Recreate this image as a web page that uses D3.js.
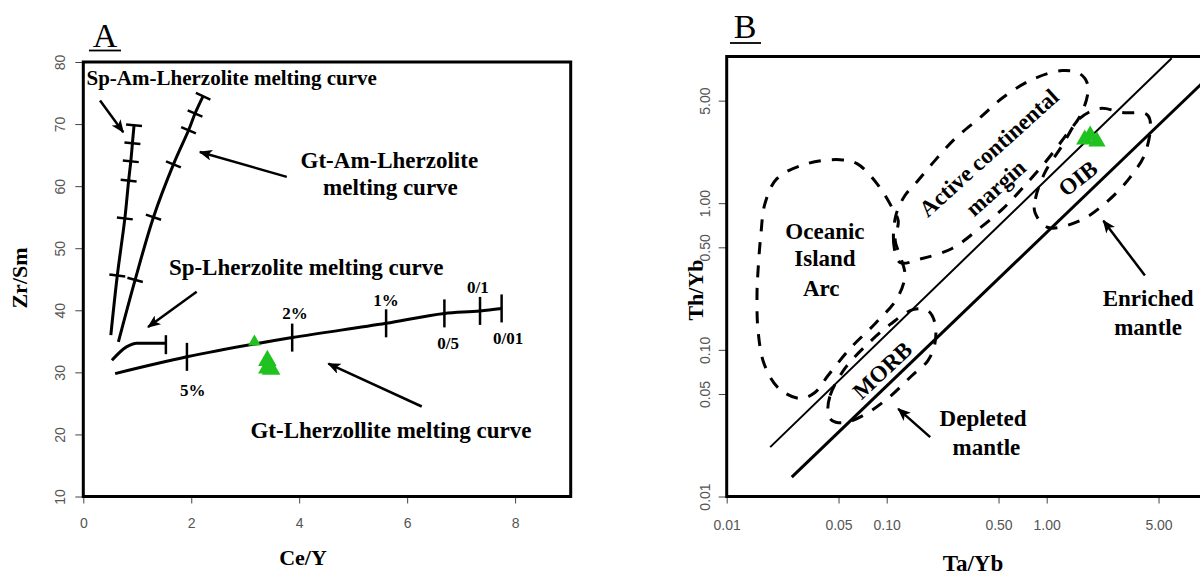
<!DOCTYPE html>
<html><head><meta charset="utf-8">
<script src="https://cdn.jsdelivr.net/npm/d3@7"></script>
<style>body{margin:0;background:#fff} svg{display:block}</style>
</head><body><svg id="c" width="1200" height="579"></svg>
<script>
// ---------- Panel A data ----------
const aXTicks = [0, 2, 4, 6, 8];
const aYTicks = [10, 20, 30, 40, 50, 60, 70, 80];
const spAmCurve = [[0.51,36.0],[0.63,45.6],[0.77,54.8],[0.84,60.9],[0.88,64.0],[0.91,66.9],[0.94,69.8]];
const gtAmCurve = [[0.65,34.9],[0.96,44.9],[1.30,55.0],[1.67,63.5],[1.95,69.0],[2.07,71.7],[2.22,74.5]];
const spLherzCurve = [[0.53,31.95],[0.80,34.1],[0.99,34.7],[1.53,34.7]];
const gtLherzCurve = [[0.59,29.8],[1.92,32.5],[3.87,35.6],[5.61,37.9],[6.69,39.5],[7.35,39.9],[7.75,40.3]];
const gtLherzTickLabels = ["5%","2%","1%","0/5","0/1","0/01"];
const gtLherzLabelPos = [[2.03,27.1],[3.92,39.5],[5.61,41.6],[6.76,34.7],[7.31,43.7],[7.87,35.5]];
const aSamples = [[3.17,34.9],[3.41,31.9],[3.41,30.7],[3.48,30.5]];
const aLabels = [
  {t:"Sp-Am-Lherzolite melting curve", x:2.75, y:77.5},
  {t:"Gt-Am-Lherzolite", x:5.67, y:64.2},
  {t:"melting curve", x:5.69, y:59.8},
  {t:"Sp-Lherzolite melting curve", x:4.13, y:46.9},
  {t:"Gt-Lherzollite melting curve", x:5.70, y:20.7}
];
const aArrows = [
  [[0.31,73.8],[0.74,68.7]],
  [[3.77,61.5],[2.16,65.5]],
  [[2.10,43.0],[1.20,37.3]],
  [[6.27,24.5],[4.54,31.4]]
];

// ---------- Panel B data ----------
const bTicks = [0.01, 0.05, 0.10, 0.50, 1.00, 5.00];
const mantleUpper = [[0.0187,0.0217],[6.04,9.72]];
const mantleLower = [[0.0255,0.01355],[9.5,6.68]];
const regionOIA = [[0.0287,0.0466],[0.0209,0.0553],[0.0171,0.0807],[0.0157,0.1355],[0.01547,0.242],[0.0157,0.3475],[0.01637,0.621],[0.01734,0.993],[0.0206,1.47],[0.0318,1.86],[0.0511,1.98],[0.0652,1.86],[0.0869,1.36],[0.108,0.933],[0.118,0.760],[0.113,0.556],[0.121,0.440],[0.130,0.321],[0.116,0.224],[0.0857,0.153],[0.0590,0.102],[0.0430,0.0668],[0.0356,0.0512]];
const regionACM = [[0.121,0.394],[0.111,0.514],[0.114,0.822],[0.130,1.127],[0.157,1.426],[0.200,1.95],[0.267,2.75],[0.383,3.83],[0.533,5.25],[0.809,6.96],[1.25,8.02],[1.61,7.64],[1.81,6.34],[1.66,4.15],[1.30,2.84],[0.975,1.89],[0.702,1.26],[0.533,0.918],[0.372,0.661],[0.256,0.491],[0.166,0.419]];
const regionOIB = [[0.845,0.863],[0.85,1.07],[0.975,1.62],[1.25,2.47],[1.61,3.78],[2.15,4.42],[2.96,4.15],[4.30,3.95],[4.18,2.28],[3.32,1.50],[2.31,0.993],[1.61,0.760],[1.02,0.683]];
const regionMORB = [[0.0430,0.0374],[0.0443,0.0488],[0.0548,0.0746],[0.0743,0.107],[0.105,0.149],[0.146,0.188],[0.181,0.185],[0.200,0.153],[0.200,0.110],[0.181,0.0845],[0.144,0.0668],[0.105,0.0481],[0.0731,0.0362],[0.0548,0.0319],[0.0455,0.0330]];
const bSamples = [[1.73,2.72],[2.06,2.63],[1.87,2.89]];
const bLabels = [
  {t:"Oceanic", x:0.0411, y:0.643, r:0},
  {t:"Island", x:0.0411, y:0.417, r:0},
  {t:"Arc", x:0.0390, y:0.261, r:0},
  {t:"Active continental", x:0.436, y:2.20, r:-42},
  {t:"margin", x:0.481, y:1.27, r:-42},
  {t:"OIB", x:1.57, y:1.47, r:-38},
  {t:"MORB", x:0.0942, y:0.0723, r:-43},
  {t:"Enriched", x:4.30, y:0.223, r:0},
  {t:"mantle", x:4.30, y:0.1426, r:0},
  {t:"Depleted", x:0.40, y:0.0340, r:0},
  {t:"mantle", x:0.42, y:0.0217, r:0}
];
const bArrows = [
  [[4.11,0.321],[2.26,0.760]],
  [[0.187,0.0254],[0.118,0.0396]]
];

// ---------- drawing ----------
const svg = d3.select("#c");
svg.append("rect").attr("width",1200).attr("height",579).attr("fill","#fff");
const SERIF = "'Liberation Serif','Times New Roman',serif";
const SANS = "'Liberation Sans',Arial,sans-serif";
const GREEN = "#1fc21f";

const defs = svg.append("defs");
defs.append("marker").attr("id","arr").attr("viewBox","0 0 12 10")
  .attr("refX",11).attr("refY",5).attr("markerWidth",15).attr("markerHeight",11)
  .attr("markerUnits","userSpaceOnUse").attr("orient","auto")
  .append("path").attr("d","M0,0 L12,5 L0,10 L3,5 Z").attr("fill","#000");

function styleAxis(g){
  g.select(".domain").remove();
  g.selectAll(".tick line").attr("stroke","#444").attr("stroke-width",1);
  g.selectAll(".tick text").attr("fill","#555").attr("font-family",SANS).attr("font-size",14);
}

// ===== Panel A =====
const xA = d3.scaleLinear().domain([0, 9.03]).range([83.3, 570.7]);
const yA = d3.scaleLinear().domain([10, 80]).range([496.5, 62]);
const gA = svg.append("g");

const axA = gA.append("g").attr("transform","translate(0,496.5)")
  .call(d3.axisBottom(xA).tickValues(aXTicks).tickSize(7).tickFormat(d3.format("d")));
styleAxis(axA);
axA.selectAll(".tick text").attr("y",26.5).attr("dy","0.35em");

const ayA = gA.append("g").attr("transform","translate(83.3,0)")
  .call(d3.axisLeft(yA).tickValues(aYTicks).tickSize(8).tickFormat(d3.format("d")));
styleAxis(ayA);
ayA.selectAll(".tick text").attr("x",0).attr("dy","0.35em").attr("text-anchor","middle")
  .attr("transform","translate(-23,0) rotate(-90)");

gA.append("rect").attr("x",xA(0)).attr("y",yA(80)).attr("width",xA(9.03)-xA(0)).attr("height",yA(10)-yA(80))
  .attr("fill","none").attr("stroke","#000").attr("stroke-width",3);

const lineA = d3.line().x(d=>xA(d[0])).y(d=>yA(d[1]));
function perpTicks(g, pts, half, skipFirst){
  const P = pts.map(d=>[xA(d[0]), yA(d[1])]);
  P.forEach((p,i)=>{
    if (skipFirst && i===0) return;
    const a = P[Math.max(0,i-1)], b = P[Math.min(P.length-1,i+1)];
    let dx=b[0]-a[0], dy=b[1]-a[1]; const L=Math.hypot(dx,dy); dx/=L; dy/=L;
    const nx=-dy, ny=dx;
    g.append("line").attr("x1",p[0]-nx*half).attr("y1",p[1]-ny*half)
      .attr("x2",p[0]+nx*half).attr("y2",p[1]+ny*half)
      .attr("stroke","#000").attr("stroke-width",2.5);
  });
}
[spAmCurve, gtAmCurve].forEach(c=>{
  gA.append("path").datum(c).attr("d",lineA.curve(d3.curveCatmullRom)).attr("fill","none")
    .attr("stroke","#000").attr("stroke-width",3);
  perpTicks(gA, c, 8, true);
});
gA.append("path").datum(spLherzCurve).attr("d",d3.line().x(d=>xA(d[0])).y(d=>yA(d[1])).curve(d3.curveMonotoneX))
  .attr("fill","none").attr("stroke","#000").attr("stroke-width",3);
{
  const e = spLherzCurve[spLherzCurve.length-1];
  gA.append("line").attr("x1",xA(e[0])).attr("x2",xA(e[0])).attr("y1",yA(e[1])-8).attr("y2",yA(e[1])+11)
    .attr("stroke","#000").attr("stroke-width",2.5);
}
gA.append("path").datum(gtLherzCurve).attr("d",d3.line().x(d=>xA(d[0])).y(d=>yA(d[1])).curve(d3.curveMonotoneX))
  .attr("fill","none").attr("stroke","#000").attr("stroke-width",3);
gtLherzCurve.slice(1).forEach(d=>{
  gA.append("line").attr("x1",xA(d[0])).attr("x2",xA(d[0])).attr("y1",yA(d[1])-14).attr("y2",yA(d[1])+14)
    .attr("stroke","#000").attr("stroke-width",2.5);
});
gA.selectAll("text.pct").data(gtLherzTickLabels).enter().append("text")
  .attr("x",(d,i)=>xA(gtLherzLabelPos[i][0])).attr("y",(d,i)=>yA(gtLherzLabelPos[i][1]))
  .attr("text-anchor","middle").attr("dominant-baseline","central")
  .attr("font-family",SERIF).attr("font-weight","bold").attr("font-size",17).text(d=>d);

aArrows.forEach(a=>{
  gA.append("line").attr("x1",xA(a[0][0])).attr("y1",yA(a[0][1])).attr("x2",xA(a[1][0])).attr("y2",yA(a[1][1]))
    .attr("stroke","#000").attr("stroke-width",2.5).attr("marker-end","url(#arr)");
});
aLabels.forEach((l,i)=>{
  gA.append("text").attr("x",xA(l.x)).attr("y",yA(l.y)).attr("text-anchor","middle")
    .attr("dominant-baseline","central").attr("font-family",SERIF).attr("font-weight","bold")
    .attr("font-size", i===0 ? 21 : 23).text(l.t);
});
aSamples.forEach((s,i)=>{
  gA.append("path").attr("d",d3.symbol(d3.symbolTriangle, i===0 ? 70 : 150)())
    .attr("transform",`translate(${xA(s[0])},${yA(s[1])})`).attr("fill",GREEN);
});

gA.append("text").attr("x",105).attr("y",47).attr("text-anchor","middle").attr("font-family",SERIF)
  .attr("font-size",34).text("A");
gA.append("line").attr("x1",89).attr("x2",121).attr("y1",50.5).attr("y2",50.5).attr("stroke","#000").attr("stroke-width",1.8);
gA.append("text").attr("x",303).attr("y",557).attr("text-anchor","middle").attr("dominant-baseline","central")
  .attr("font-family",SERIF).attr("font-weight","bold").attr("font-size",22).text("Ce/Y");
gA.append("text").attr("transform","translate(19,278) rotate(-90)").attr("text-anchor","middle")
  .attr("dominant-baseline","central").attr("font-family",SERIF).attr("font-weight","bold").attr("font-size",22).text("Zr/Sm");

// ===== Panel B =====
const xB = d3.scaleLog().domain([0.01, 10]).range([726.7, 1206.7]);
const yB = d3.scaleLog().domain([0.01, 10]).range([496.5, 56.5]);
const gB = svg.append("g");
const f2 = d3.format(".2f");

const axB = gB.append("g").attr("transform","translate(0,496.5)")
  .call(d3.axisBottom(xB).tickValues(bTicks).tickSize(7).tickFormat(f2));
styleAxis(axB);
axB.selectAll(".tick text").attr("y",28.5).attr("dy","0.35em");

const ayB = gB.append("g").attr("transform","translate(726.7,0)")
  .call(d3.axisLeft(yB).tickValues(bTicks).tickSize(8).tickFormat(f2));
styleAxis(ayB);
ayB.selectAll(".tick text").attr("x",0).attr("dy","0.35em").attr("text-anchor","middle")
  .attr("transform","translate(-22,0) rotate(-90)");

const lineB = d3.line().x(d=>xB(d[0])).y(d=>yB(d[1]));
gB.append("path").datum(mantleUpper).attr("d",lineB).attr("stroke","#000").attr("stroke-width",2).attr("fill","none");
gB.append("path").datum(mantleLower).attr("d",lineB).attr("stroke","#000").attr("stroke-width",3).attr("fill","none");

const closedB = d3.line().x(d=>xB(d[0])).y(d=>yB(d[1])).curve(d3.curveCatmullRomClosed.alpha(0.5));
[regionOIA, regionACM, regionOIB, regionMORB].forEach(r=>{
  gB.append("path").datum(r).attr("d",closedB).attr("fill","none").attr("stroke","#000")
    .attr("stroke-width",3).attr("stroke-dasharray","12,11");
});

gB.append("rect").attr("x",xB(0.01)).attr("y",yB(10)).attr("width",xB(10)-xB(0.01)).attr("height",yB(0.01)-yB(10))
  .attr("fill","none").attr("stroke","#000").attr("stroke-width",3);

bArrows.forEach(a=>{
  gB.append("line").attr("x1",xB(a[0][0])).attr("y1",yB(a[0][1])).attr("x2",xB(a[1][0])).attr("y2",yB(a[1][1]))
    .attr("stroke","#000").attr("stroke-width",2.5).attr("marker-end","url(#arr)");
});
bLabels.forEach(l=>{
  gB.append("text").attr("transform",`translate(${xB(l.x)},${yB(l.y)}) rotate(${l.r})`)
    .attr("text-anchor","middle").attr("dominant-baseline","central").attr("font-family",SERIF)
    .attr("font-weight","bold").attr("font-size",23).text(l.t);
});
bSamples.forEach(s=>{
  gB.append("path").attr("d",d3.symbol(d3.symbolTriangle, 130)())
    .attr("transform",`translate(${xB(s[0])},${yB(s[1])})`).attr("fill",GREEN);
});

gB.append("text").attr("x",745).attr("y",38).attr("text-anchor","middle").attr("font-family",SERIF)
  .attr("font-size",34).text("B");
gB.append("line").attr("x1",730).attr("x2",761).attr("y1",43).attr("y2",43).attr("stroke","#000").attr("stroke-width",1.8);
gB.append("text").attr("x",973).attr("y",563).attr("text-anchor","middle").attr("dominant-baseline","central")
  .attr("font-family",SERIF).attr("font-weight","bold").attr("font-size",23).text("Ta/Yb");
gB.append("text").attr("transform","translate(695,290) rotate(-90)").attr("text-anchor","middle")
  .attr("dominant-baseline","central").attr("font-family",SERIF).attr("font-weight","bold").attr("font-size",22).text("Th/Yb");
</script></body></html>
